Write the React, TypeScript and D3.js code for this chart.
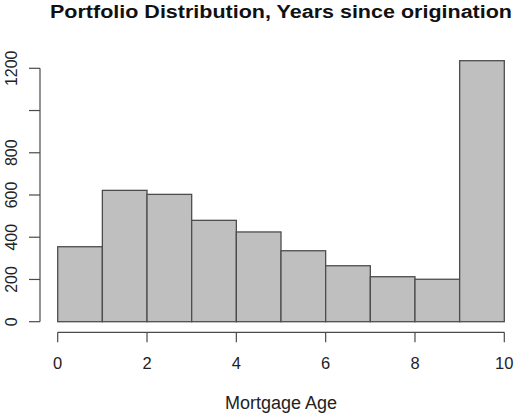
import React from "react";
import * as d3 from "d3";

const binStarts = [0, 1, 2, 3, 4, 5, 6, 7, 8, 9];
const binWidth = 1;
const counts = [355, 622, 603, 480, 425, 336, 265, 213, 201, 1236];
const yTicks = [0, 200, 400, 600, 800, 1000, 1200];
const yTickLabels = ["0", "200", "400", "600", "800", "", "1200"];
const xTicks = [0, 2, 4, 6, 8, 10];
const xTickLabels = ["0", "2", "4", "6", "8", "10"];
const title = "Portfolio Distribution, Years since origination";
const xLabel = "Mortgage Age";

const W = 515;
const H = 413;

export default function App() {
  const x = d3.scaleLinear().domain([0, 10]).range([57.7, 504.3]);
  const y = d3.scaleLinear().domain([0, 1200]).range([321.7, 68.3]);
  const axisY = 332.3;
  const axisX = 40;
  const font = "'Liberation Sans', Arial, Helvetica, sans-serif";
  const axisColor = "#4a4a4a";
  return (
    <svg
      width={W}
      height={H}
      style={{ position: "absolute", left: 0, top: 0, background: "#fff" }}
      fontFamily={font}
    >
      <rect x={0} y={0} width={W} height={H} fill="#fff" />
      <text
        x={281}
        y={18}
        textAnchor="middle"
        fontWeight="bold"
        fontSize={17.5}
        textLength={462}
        lengthAdjust="spacingAndGlyphs"
        fill="#111"
      >
        {title}
      </text>
      {binStarts.map((b, i) => (
        <rect
          key={i}
          x={x(b)}
          y={y(counts[i])}
          width={x(b + binWidth) - x(b)}
          height={y(0) - y(counts[i])}
          fill="#bfbfbf"
          stroke="#4d4d4d"
          strokeWidth={1.3}
        />
      ))}
      {/* x axis */}
      <line x1={x(0)} x2={x(10)} y1={axisY} y2={axisY} stroke={axisColor} strokeWidth={1.2} />
      {xTicks.map((t, i) => (
        <g key={i}>
          <line x1={x(t)} x2={x(t)} y1={axisY} y2={axisY + 10} stroke={axisColor} strokeWidth={1.2} />
          <text x={x(t)} y={369} textAnchor="middle" fontSize={16.5} fill="#222">
            {xTickLabels[i]}
          </text>
        </g>
      ))}
      <text x={281} y={409} textAnchor="middle" fontSize={18} fill="#222">
        {xLabel}
      </text>
      {/* y axis */}
      <line x1={axisX} x2={axisX} y1={y(0)} y2={y(1200)} stroke={axisColor} strokeWidth={1.2} />
      {yTicks.map((t, i) => (
        <g key={i}>
          <line x1={axisX - 11} x2={axisX} y1={y(t)} y2={y(t)} stroke={axisColor} strokeWidth={1.2} />
          <text
            transform={`translate(17,${y(t)}) rotate(-90)`}
            textAnchor="middle"
            fontSize={16}
            fill="#222"
          >
            {yTickLabels[i]}
          </text>
        </g>
      ))}
    </svg>
  );
}
